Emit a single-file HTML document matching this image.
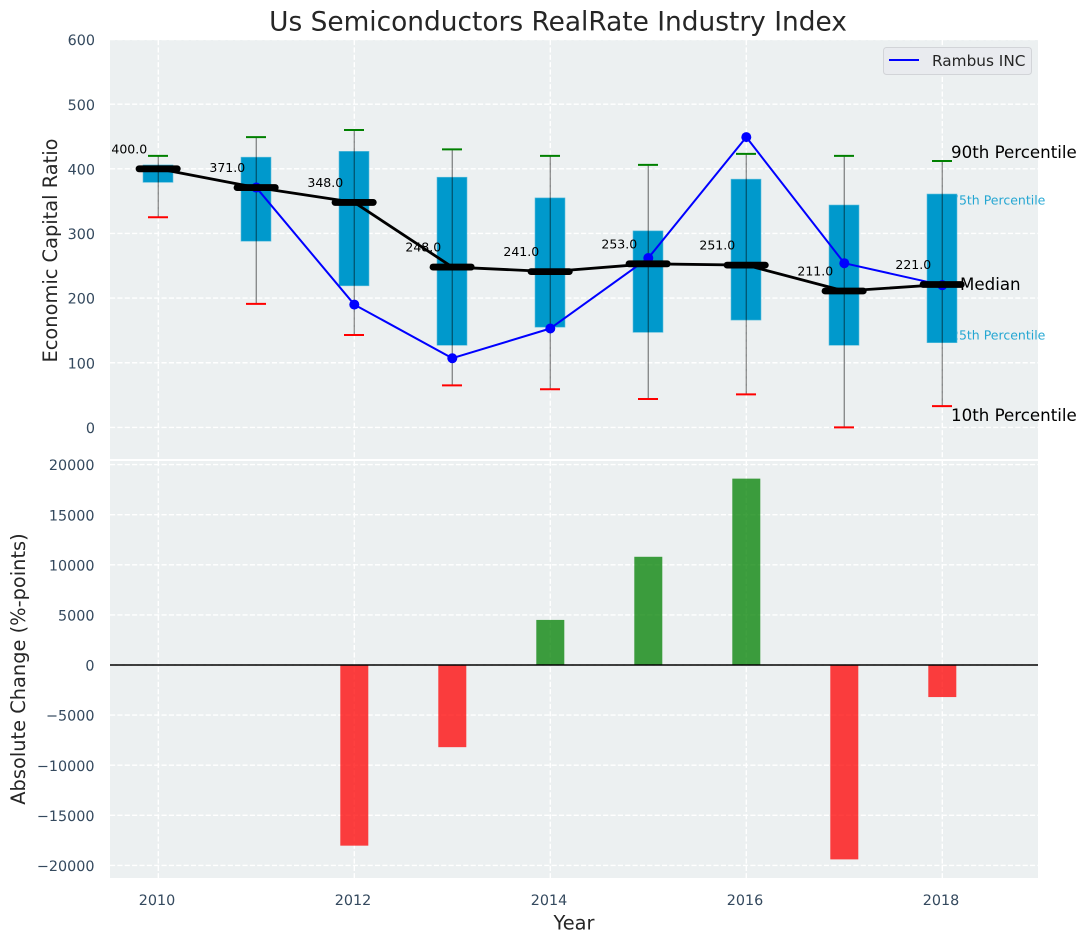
<!DOCTYPE html>
<html lang="en">
<head>
<meta charset="utf-8">
<title>Us Semiconductors RealRate Industry Index</title>
<style>
html,body{margin:0;padding:0;background:#fff;}
body{width:1086px;height:942px;overflow:hidden;}
svg{display:block;font-family:"DejaVu Sans","Liberation Sans",sans-serif;}
#ticks text,.precise{text-rendering:geometricPrecision;}
</style>
</head>
<body>
<svg id="chart" xmlns="http://www.w3.org/2000/svg" width="1086" height="942" viewBox="0 0 1086 942">
  <rect x="110" y="40" width="928" height="419" fill="#ecf0f1"/>
  <rect x="110" y="461" width="928" height="417" fill="#ecf0f1"/>
  <g id="grid"></g>
  <g id="ticks"></g>
  <text x="558" y="30.5" text-anchor="middle" font-size="26.4" fill="#262626">Us Semiconductors RealRate Industry Index</text>
  <text transform="translate(57,250.5) rotate(-90)" text-anchor="middle" font-size="19.4" fill="#262626">Economic Capital Ratio</text>
  <text transform="translate(25,669) rotate(-90)" text-anchor="middle" font-size="19.4" fill="#262626">Absolute Change (%-points)</text>
  <text x="574" y="929.3" text-anchor="middle" font-size="19.4" fill="#262626">Year</text>
  <text class="precise" x="951" y="204.5" font-size="12.5" fill="#0099cc" fill-opacity="0.85">75th Percentile</text>
  <text class="precise" x="951" y="339.5" font-size="12.5" fill="#0099cc" fill-opacity="0.85">25th Percentile</text>
  <g id="boxes"></g>
  <g id="bars"></g>
  <line x1="110" x2="1038" y1="665" y2="665" stroke="#000" stroke-width="1.6"/>
  <g id="whiskers"></g>
  <g id="rambus"></g>
  <g id="medians"></g>
  <text x="951" y="158" font-size="16.67" fill="#000">90th Percentile</text>
  <text x="960" y="290" font-size="16.67" fill="#000">Median</text>
  <text x="951" y="421" font-size="16.67" fill="#000">10th Percentile</text>
  <g>
    <rect x="883.5" y="47.5" width="148" height="27" rx="3" fill="#e9ebef" stroke="#d2d4d8" stroke-width="1"/>
    <line x1="889" x2="919" y1="60" y2="60" stroke="#0000ff" stroke-width="2"/>
    <text x="932" y="66" font-size="15.3" fill="#262626">Rambus INC</text>
  </g>
</svg>
<script>
const years = [2010, 2011, 2012, 2013, 2014, 2015, 2016, 2017, 2018];
const p90 = [420, 449, 460, 430, 420, 406, 423, 420, 412];
const p75 = [406, 418, 427, 387, 355, 304, 384, 344, 361];
const medianValues = [400, 371, 348, 248, 241, 253, 251, 211, 221];
const p25 = [379, 288, 219, 127, 155, 147, 166, 127, 131];
const p10 = [325, 191, 143, 65, 59, 44, 51, 0, 33];
const rambus = [null, 371, 190, 107, 153, 262, 449, 254, 220];
const changeValues = [null, null, -18030, -8200, 4500, 10800, 18600, -19400, -3200];
const xTicks = [2010, 2012, 2014, 2016, 2018];
const topYTicks = [0, 100, 200, 300, 400, 500, 600];
const bottomYTicks = [-20000, -15000, -10000, -5000, 0, 5000, 10000, 15000, 20000];

const NS = 'http://www.w3.org/2000/svg';
const x = function (v) { return 158.3 + (v - 2010) * 98; };
const yTop = function (v) { return 427.4 - v * 0.6465; };
const yBottom = function (v) { return 665 - v * 0.01002; };
function mk(parent, tag, props, text) {
  const el = document.createElementNS(NS, tag);
  for (const k in props) el.setAttribute(k, props[k]);
  if (text !== undefined) el.textContent = text;
  document.getElementById(parent).appendChild(el);
  return el;
}
const gridStyle = { stroke: '#ffffff', 'stroke-width': 1.39, 'stroke-dasharray': '5.14 2.22' };
function fmt(v) { return v < 0 ? '\u2212' + Math.abs(v) : String(v); }

topYTicks.forEach(function (t) {
  const g = mk('grid', 'line', Object.assign({ x1: 110, x2: 1038, y1: yTop(t), y2: yTop(t) }, gridStyle));
  
  
  const l = mk('ticks', 'text', { x: 95, y: yTop(t) + 5.6, 'text-anchor': 'end', 'font-size': 14.35, fill: '#34495e' }, fmt(t));
  
  
});
bottomYTicks.forEach(function (t) {
  const g = mk('grid', 'line', Object.assign({ x1: 110, x2: 1038, y1: yBottom(t), y2: yBottom(t) }, gridStyle));
  
  
  const l = mk('ticks', 'text', { x: 94.5, y: yBottom(t) + 5.6, 'text-anchor': 'end', 'font-size': 14.35, fill: '#34495e' }, fmt(t));
  
  
});
xTicks.forEach(function (t) {
  const a = mk('grid', 'line', Object.assign({ x1: x(t), x2: x(t), y1: 40, y2: 459 }, gridStyle));
  
  
  const b = mk('grid', 'line', Object.assign({ x1: x(t), x2: x(t), y1: 461, y2: 878 }, gridStyle));
  
  
  const l = mk('ticks', 'text', { x: x(t) - 1.3, y: 905, 'text-anchor': 'middle', 'font-size': 14.35, fill: '#34495e' }, String(t));
  
  
});

years.forEach(function (yr, i) {
  const cx = x(yr);
  const box = mk('boxes', 'rect', { x: cx - 15.3, y: yTop(p75[i]), width: 30, height: yTop(p25[i]) - yTop(p75[i]), fill: '#0099cc', stroke: '#5fbfdd', 'stroke-width': 0.6 });
  
  
  const w = mk('whiskers', 'line', { x1: cx, x2: cx, y1: yTop(p90[i]), y2: yTop(p10[i]), stroke: '#000', 'stroke-opacity': 0.42, 'stroke-width': 1.4 });
  
  
  const hi = mk('whiskers', 'line', { x1: cx - 10.3, x2: cx + 9.7, y1: yTop(p90[i]), y2: yTop(p90[i]), stroke: '#008000', 'stroke-width': 2 });
  
  
  const lo = mk('whiskers', 'line', { x1: cx - 10.3, x2: cx + 9.7, y1: yTop(p10[i]), y2: yTop(p10[i]), stroke: '#ff0000', 'stroke-width': 2 });
  
  
  if (changeValues[i] !== null) {
    const v = changeValues[i];
    const bar = mk('bars', 'rect', { x: cx - 14, y: Math.min(yBottom(v), yBottom(0)), width: 28, height: Math.abs(yBottom(v) - yBottom(0)), fill: v < 0 ? '#ff0000' : '#008000', 'fill-opacity': 0.75 });
    
    
  }
});

const bluePts = [];
years.forEach(function (yr, i) {
  if (rambus[i] !== null) bluePts.push(x(yr) + ',' + yTop(rambus[i]));
});
const blue = mk('rambus', 'polyline', { points: bluePts.join(' '), fill: 'none', stroke: '#0000ff', 'stroke-width': 2, 'stroke-linejoin': 'round' });


years.forEach(function (yr, i) {
  if (rambus[i] === null) return;
  const p = mk('rambus', 'circle', { cx: x(yr), cy: yTop(rambus[i]), r: 5, fill: '#0000ff' });
  
  
});

const medLine = mk('medians', 'polyline', { points: years.map(function (yr, i) { return x(yr) + ',' + yTop(medianValues[i]); }).join(' '), fill: 'none', stroke: '#000', 'stroke-width': 2.8, 'stroke-linejoin': 'round' });


years.forEach(function (yr, i) {
  const cx = x(yr), cy = yTop(medianValues[i]);
  const m = mk('medians', 'line', { x1: cx - 19.3, x2: cx + 19, y1: cy, y2: cy, stroke: '#000', 'stroke-width': 6.8, 'stroke-linecap': 'round' });
  
  
  const t = mk('medians', 'text', { x: cx - 29, y: cy - 15.4, 'text-anchor': 'middle', 'font-size': 12.5, fill: '#000' }, medianValues[i].toFixed(1));
  
  
});
</script>
</body>
</html>
